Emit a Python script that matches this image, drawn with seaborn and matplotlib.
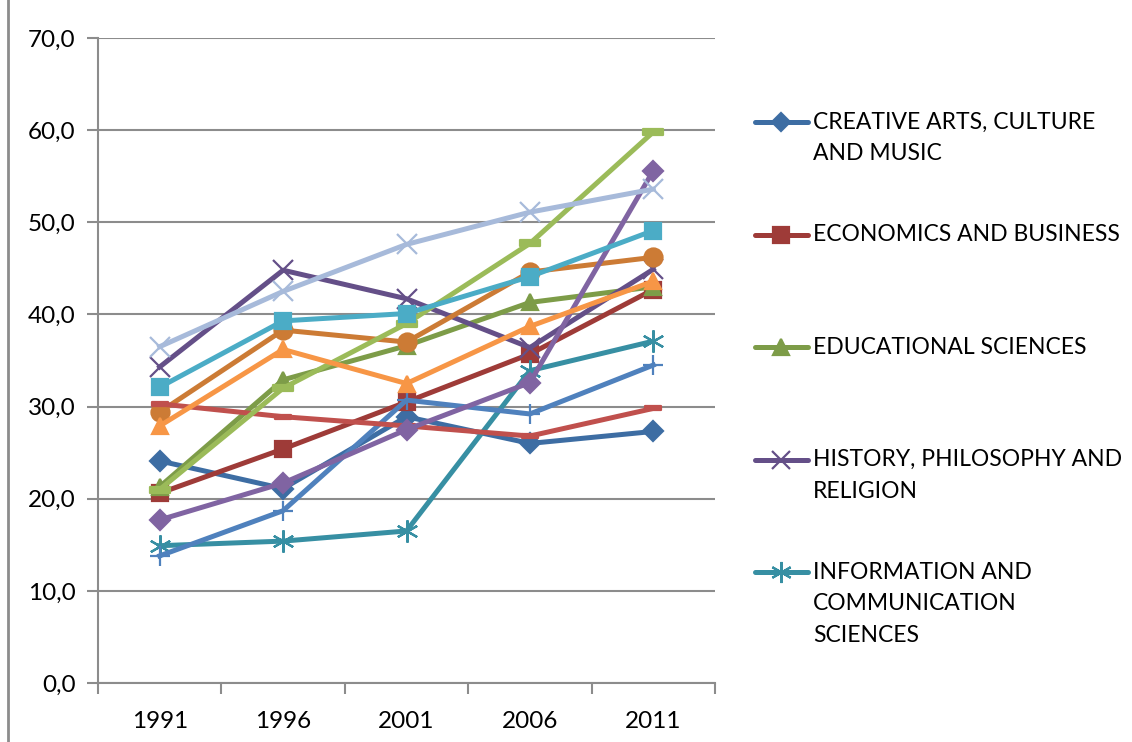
import matplotlib
matplotlib.use('Agg')
import matplotlib.pyplot as plt
from matplotlib.lines import Line2D
from matplotlib.path import Path
import numpy as np
import pandas as pd
import seaborn as sns

# datos
anos = ['1991', '1996', '2001', '2006', '2011']
series = ['CREATIVE ARTS, CULTURE\nAND MUSIC', 'ECONOMICS AND BUSINESS',
          'EDUCATIONAL SCIENCES', 'HISTORY, PHILOSOPHY AND\nRELIGION',
          'INFORMATION AND\nCOMMUNICATION\nSCIENCES',
          'SERIE 6', 'SERIE 7', 'SERIE 8', 'SERIE 9', 'SERIE 10',
          'SERIE 11', 'SERIE 12', 'SERIE 13']
valores = [
    [24.1, 21.1, 28.9, 26.0, 27.3],
    [20.6, 25.4, 30.5, 35.7, 42.7],
    [21.3, 32.9, 36.6, 41.3, 43.0],
    [34.3, 44.8, 41.7, 36.4, 44.9],
    [14.9, 15.4, 16.5, 33.9, 37.1],
    [29.4, 38.3, 37.0, 44.6, 46.2],
    [13.8, 18.7, 30.7, 29.2, 34.5],
    [30.3, 28.9, 27.9, 26.8, 29.8],
    [21.0, 32.0, 39.0, 47.7, 59.8],
    [17.7, 21.7, 27.5, 32.6, 55.6],
    [32.1, 39.3, 40.1, 44.1, 49.1],
    [27.9, 36.2, 32.5, 38.7, 43.6],
    [36.5, 42.5, 47.6, 51.1, 53.6],
]

colores = ['#3D6DA3', '#9E3B38', '#7D9C48', '#644F88', '#378FA3',
           '#CC7B35', '#4F81BD', '#C0504D', '#9BBB59', '#8064A2',
           '#4BACC6', '#F79646', '#A7BADA']

dash = Path([(-1, -0.3), (1, -0.3), (1, 0.3), (-1, 0.3), (-1, -0.3)], closed=True)
marcadores = ['D', 's', '^', 'x', (6, 2, 0), 'o', '+', dash, dash, 'D', 's', '^', 'x']
tamanos = [10, 12, 12, 14, 16, 13, 15, 11, 14, 10, 12, 12, 14]

plt.rcParams['font.family'] = ['Lato', 'DejaVu Sans']

fig = plt.figure(figsize=(11.32, 7.42), dpi=100)
W, H = 1132, 742
ax = fig.add_axes([98 / W, (H - 683) / H, (715 - 98) / W, (683 - 38) / H])

for i, nombre in enumerate(series):
    df = pd.DataFrame({'x': np.arange(len(anos)), 'y': valores[i]})
    sns.lineplot(data=df, x='x', y='y', ax=ax, color=colores[i], linewidth=3.6,
                 marker=marcadores[i], markersize=tamanos[i],
                 markeredgecolor=colores[i], markerfacecolor=colores[i],
                 markeredgewidth=1.6, legend=False, zorder=3 + i * 0.01)

gris = '#8C8C8C'
ax.set_xlim(-0.5, len(anos) - 0.5)
ax.set_ylim(0, 70)
ax.set_yticks(np.arange(0, 71, 10))
ax.set_yticklabels([f'{v:.1f}'.replace('.', ',') for v in np.arange(0, 71, 10)])
ax.set_xticks(np.arange(len(anos)))
ax.set_xticklabels(anos)
ax.set_xticks(np.arange(-0.5, len(anos), 1), minor=True)
ax.tick_params(axis='x', which='major', length=0, pad=20, labelsize=17.5)
ax.tick_params(axis='x', which='minor', length=8, width=1.5, color=gris, direction='out')
ax.tick_params(axis='y', length=8, width=1.5, color=gris, direction='out', pad=8, labelsize=17.5)
ax.set_xlabel('')
ax.set_ylabel('')
for lado in ['top', 'right']:
    ax.spines[lado].set_visible(False)
for lado in ['left', 'bottom']:
    ax.spines[lado].set_color(gris)
    ax.spines[lado].set_linewidth(1.5)
ax.grid(axis='y', color=gris, linewidth=1.5)
ax.set_axisbelow(True)

# leyenda (solo las cinco primeras entradas visibles)
for i in range(5):
    y = (H - (122 + 112.6 * i)) / H
    fig.add_artist(Line2D([755 / W, 808 / W], [y, y], color=colores[i], linewidth=3.6,
                          solid_capstyle='round'))
    fig.add_artist(Line2D([781 / W], [y], color=colores[i], marker=marcadores[i],
                          markersize=tamanos[i] * 0.95, markeredgecolor=colores[i],
                          markeredgewidth=1.6))
    for k, linea in enumerate(series[i].split('\n')):
        fig.text(813 / W, (H - (122 + 112.6 * i) - 31.5 * k) / H, linea,
                 va='center', ha='left', fontsize=16.5)

# borde del área del gráfico
fig.add_artist(Line2D([8 / W, 8 / W], [0, 1], color=gris, linewidth=2))

plt.savefig('out.png', dpi=100)
plt.close()
